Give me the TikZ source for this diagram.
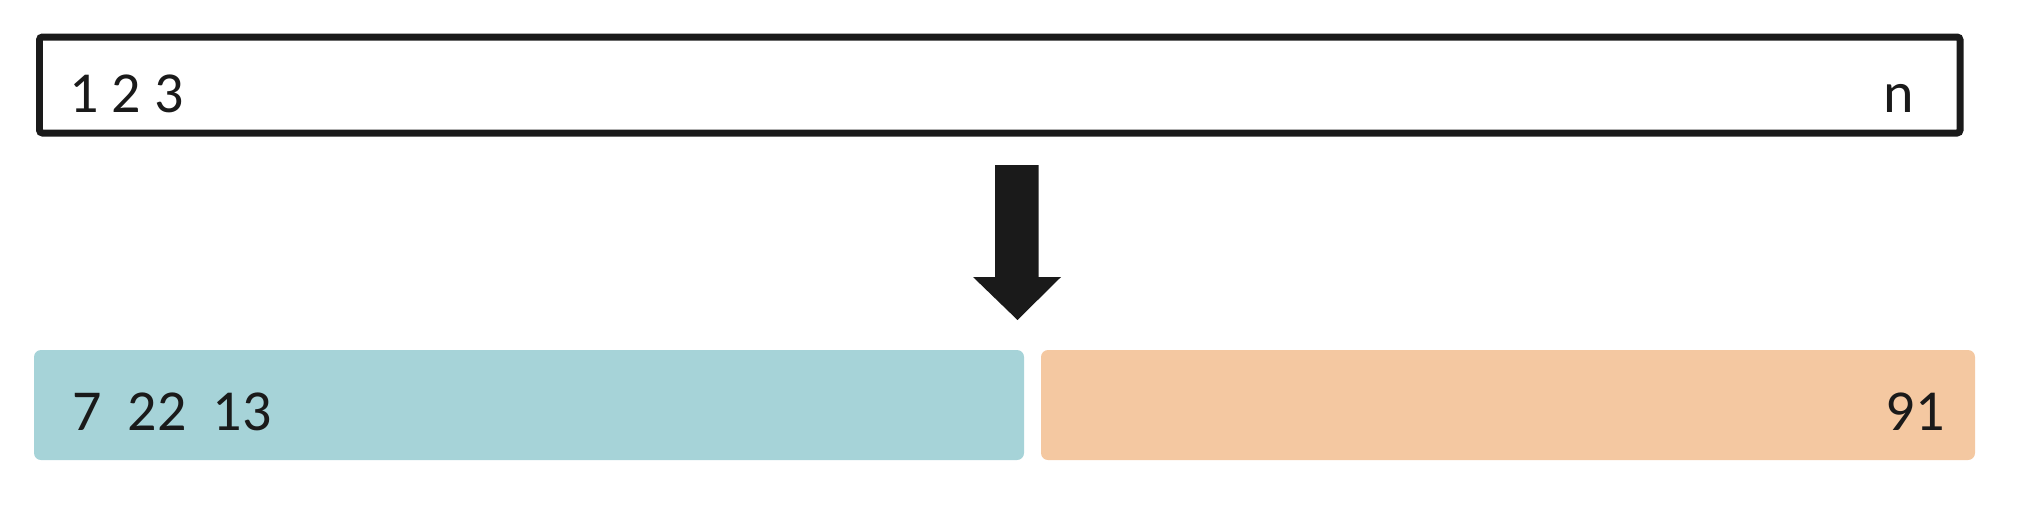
\documentclass[tikz,border=0pt]{standalone}
\usepackage{fontspec}
\setmainfont{Carlito}
\usetikzlibrary{calc,positioning}
\definecolor{ink}{RGB}{26,26,26}
\definecolor{teal-light}{RGB}{166,211,216}
\definecolor{peach}{RGB}{244,200,161}

\begin{document}
\begin{tikzpicture}[x=0.02cm, y=-0.02cm,
    box/.style={draw=ink, line width=0.14cm, rounded corners=0.06cm, inner sep=0pt},
    part/.style={rounded corners=0.14cm, inner sep=0pt},
    num/.style={ink, inner sep=0pt, font=\fontsize{33}{40}\selectfont}]

    \useasboundingbox (0,0) rectangle (2028,514);

    % the whole sequence
    \draw[box] (39.5,37) rectangle (1960,133);
    \node[num, anchor=base west] (first) at (69,112.7) {1 2 3};
    \node[num, anchor=base east] (last) at (1914,112.7) {n};

    % block arrow
    \fill[ink] (995,165) -- (1038.5,165) -- (1038.5,277) -- (1061,277)
        -- (1017.5,320) -- (973,277) -- (995,277) -- cycle;

    % the two parts
    \fill[teal-light, part] (34,350) rectangle (1024,460);
    \fill[peach, part] (1041,350) rectangle (1975,460);
    \node[num, anchor=base west] (small) at (72,430.7) {7\ \ 22\ \ 13};
    \node[num, anchor=base east] (big) at (1945,430.7) {91};

\end{tikzpicture}
\end{document}
